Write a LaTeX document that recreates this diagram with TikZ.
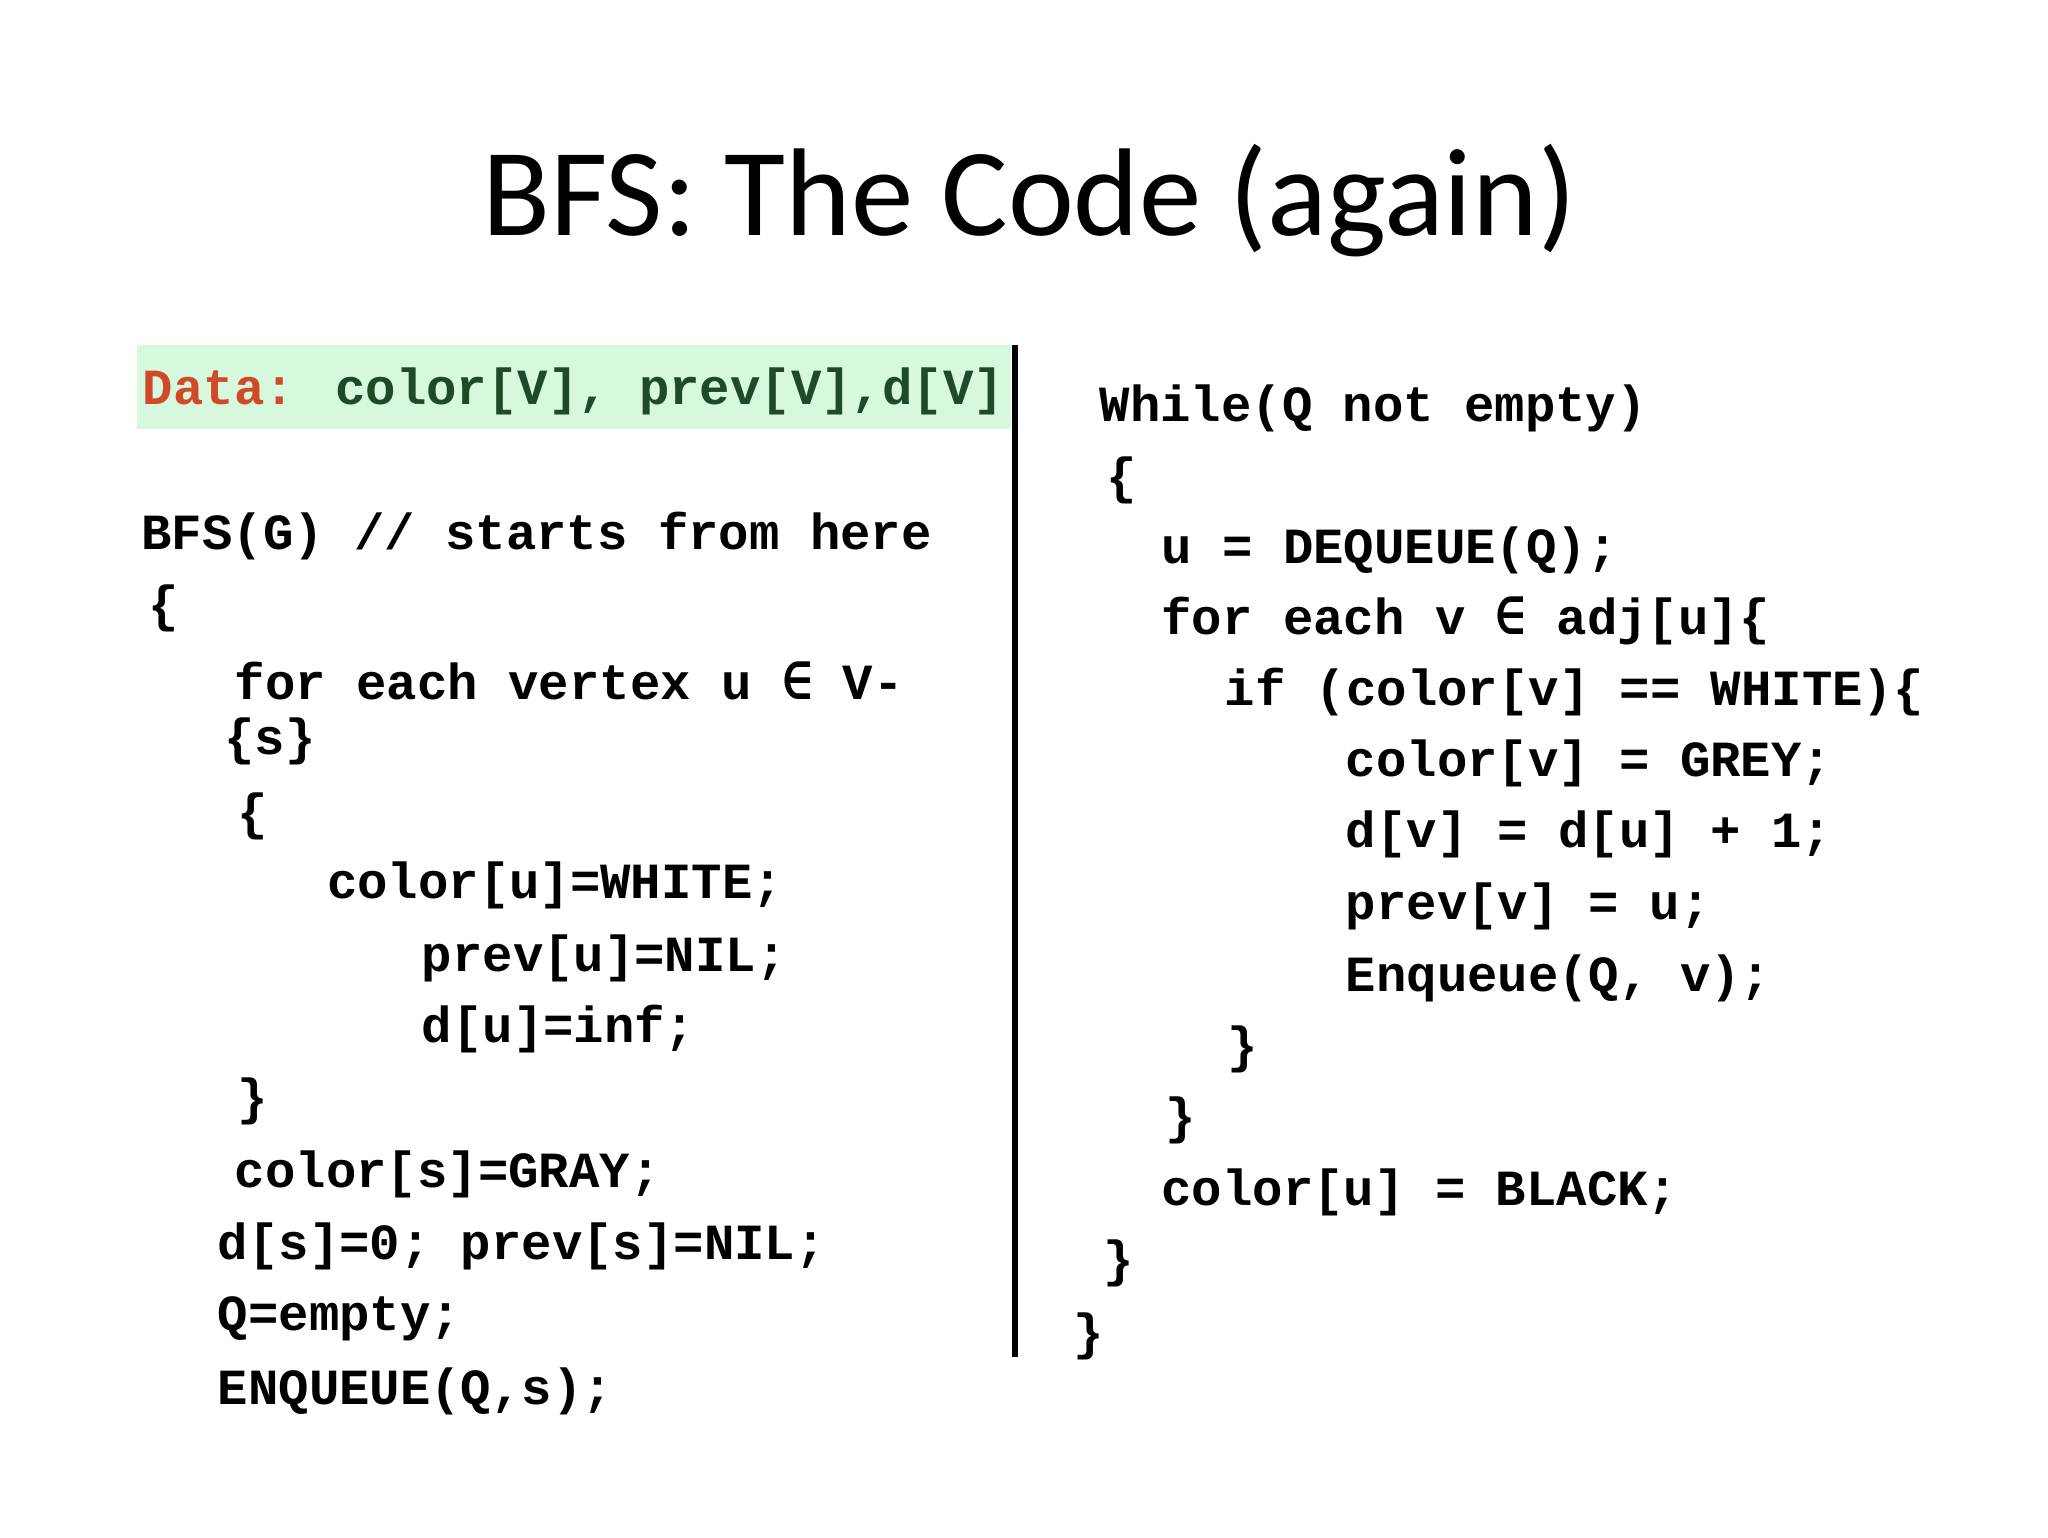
\documentclass[tikz,border=0pt]{standalone}
\usepackage{fontspec}
\setmainfont{Carlito}
\newfontfamily\codefont{Liberation Mono}[BoldFont={Liberation Mono Bold}]
\newfontfamily\symfont{DejaVu Sans Mono}
\newcommand\elemof{{\symfont\bfseries ∈}}
\definecolor{boxgreen}{HTML}{D6F8DC}
\definecolor{datared}{HTML}{D04A2A}
\definecolor{datagreen}{HTML}{1E4A28}
\begin{document}
\begin{tikzpicture}[x=0.01316cm,y=-0.01316cm,
  code/.style={anchor=west,inner sep=0pt,font=\codefont\bfseries\fontsize{14.4}{16}\selectfont}]
\useasboundingbox (0,0) rectangle (1556,1168);
\node[inner sep=0pt,font=\fontsize{35.5}{42}\selectfont] (title) at (782,152) {BFS: The Code (again)};
\fill[boxgreen] (104,262) rectangle (768,326);
\draw[line width=1.6pt] (771,262) -- (771,1031);
\node[code] (data) at (108,297) {\textcolor{datared}{Data:} \textcolor{datagreen}{color[V], prev[V],d[V]}};
\node[code] (l1) at (107,407) {BFS(G) // starts from here};
\node[code] (l2) at (112,462) {\{};
\node[code] (l3) at (178,517) {for each vertex u \elemof{} V-};
\node[code] (l4) at (170,563) {\{s\}};
\node[code] (l5) at (180,620) {\{};
\node[code] (l6) at (248,673) {color[u]=WHITE;};
\node[code] (l7) at (320,728) {prev[u]=NIL;};
\node[code] (l8) at (320,782) {d[u]=inf;};
\node[code] (l9) at (180,837) {\}};
\node[code] (l10) at (178,892) {color[s]=GRAY;};
\node[code] (l11) at (165,947) {d[s]=0; prev[s]=NIL;};
\node[code] (l12) at (165,1002) {Q=empty;};
\node[code] (l13) at (165,1057) {ENQUEUE(Q,s);};
\node[code] (r1) at (835,310) {While(Q not empty)};
\node[code] (r2) at (840,365) {\{};
\node[code] (r3) at (882,418) {u = DEQUEUE(Q);};
\node[code] (r4) at (882,472) {for each v \elemof{} adj[u]\{};
\node[code] (r5) at (930,526) {if (color[v] == WHITE)\{};
\node[code] (r6) at (1022,580) {color[v] = GREY;};
\node[code] (r7) at (1022,634) {d[v] = d[u] + 1;};
\node[code] (r8) at (1022,689) {prev[v] = u;};
\node[code] (r9) at (1022,743) {Enqueue(Q, v);};
\node[code] (r10) at (932,797) {\}};
\node[code] (r11) at (885,851) {\}};
\node[code] (r12) at (882,906) {color[u] = BLACK;};
\node[code] (r13) at (838,960) {\}};
\node[code] (r14) at (815,1015) {\}};
\end{tikzpicture}
\end{document}
